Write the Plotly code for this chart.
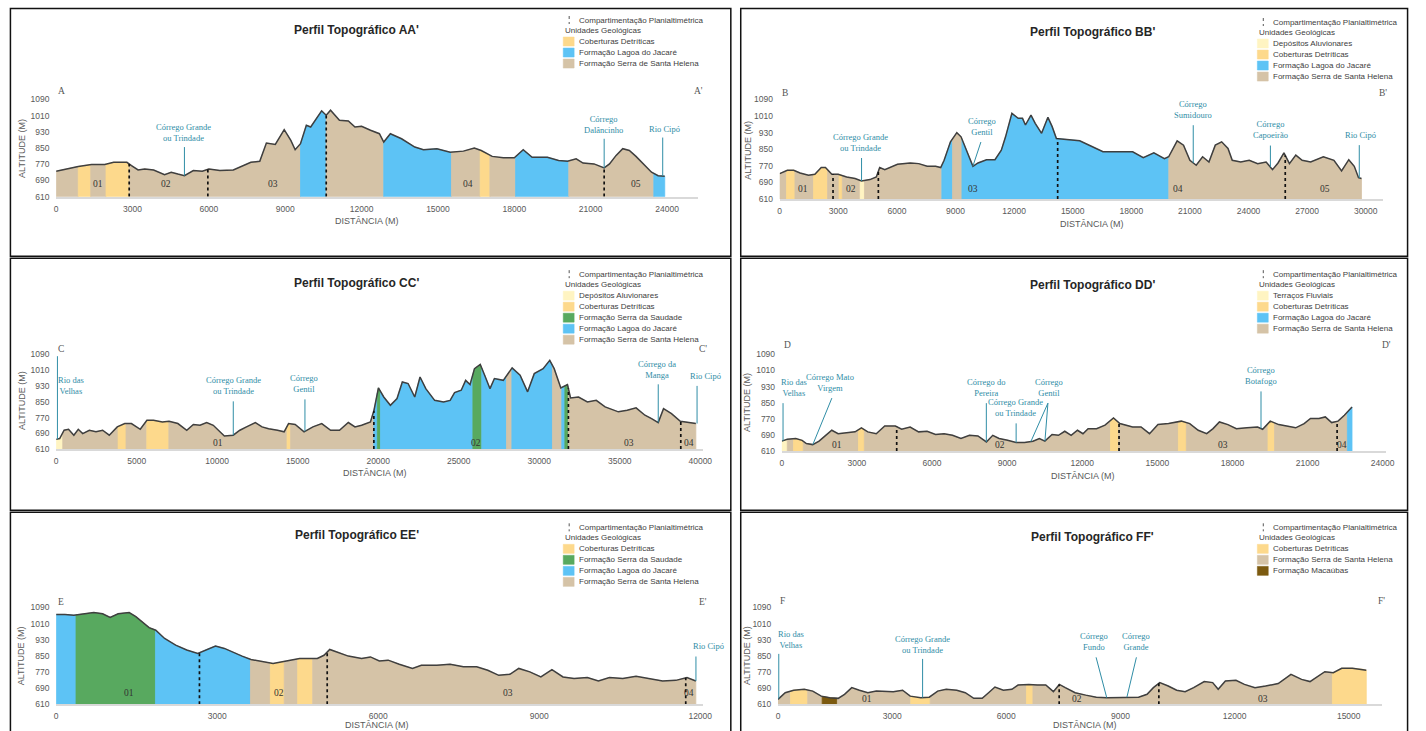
import numpy as np
import plotly.graph_objects as go

# ---------------- geological units ----------------
UNIT_NAMES = {
    "DA": "Depósitos Aluvionares",
    "TF": "Terraços Fluviais",
    "CD": "Coberturas Detríticas",
    "SS": "Formação Serra da Saudade",
    "LJ": "Formação Lagoa do Jacaré",
    "SH": "Formação Serra de Santa Helena",
    "MA": "Formação Macaúbas",
}
UNIT_COLORS = {
    "DA": "#FFF4C2",
    "TF": "#FFF4C2",
    "CD": "#FDD98C",
    "SS": "#58A95F",
    "LJ": "#5DC3F5",
    "SH": "#D5C3A7",
    "MA": "#7C5A10",
}

Y_TICKS = [610, 690, 770, 850, 930, 1010, 1090]

# ---------------- profile AA' ----------------
A_dist = [0, 520, 870, 1390, 1910, 2260, 2780, 2960, 3220, 3480, 3830, 4260, 4520, 4780, 5040, 5390, 5740,
          6000, 6430, 6960, 7300, 7650, 8000, 8260, 8610, 8960, 9220, 9390, 9600, 9830, 10000, 10430, 10610,
          10780, 11130, 11480, 11740, 12000, 12350, 12700, 12870, 13130, 13570, 14090, 14430, 14960, 15480,
          16000, 16430, 16700, 17130, 17570, 18000, 18350, 18700, 19300, 19740, 20090, 20430, 20700, 21130,
          21530, 21740, 22000, 22260, 22520, 22780, 23130, 23390, 23650, 23910]
A_alt = [736, 752, 759, 769, 769, 780, 780, 764, 742, 747, 742, 719, 731, 722, 714, 739, 736, 747, 739, 742,
         759, 780, 785, 875, 868, 941, 888, 842, 872, 963, 954, 1034, 1012, 1037, 987, 984, 954, 958, 938, 921,
         880, 921, 896, 855, 842, 847, 830, 835, 850, 838, 809, 802, 802, 842, 805, 805, 789, 785, 797, 776,
         772, 752, 772, 814, 847, 838, 809, 764, 731, 714, 711]
A_breaks = [0, 870, 1360, 1960, 2870, 9600, 10610, 12870, 15530, 16660, 17040, 18050, 20140, 23480, 23910]
A_units = ["SH", "CD", "SH", "CD", "SH", "LJ", "SH", "LJ", "SH", "CD", "SH", "LJ", "SH", "LJ"]
A_div = [2870, 5960, 10610, 21530]
A_zone_x = [1650, 4310, 8520, 16170, 22780]
A_zone_lab = ["01", "02", "03", "04", "05"]
A_xticks = [0, 3000, 6000, 9000, 12000, 15000, 18000, 21000, 24000]
A_legend = ["CD", "LJ", "SH"]
# (label, label_x, label_alt, line_top_x, line_top_alt, stream_x list)
A_rivers = [
    ("Córrego Grande<br>ou Trindade", 5010, 863, 5040, 855, [5040]),
    ("Córrego<br>Dalâncinho", 21510, 904, 21530, 896, [21530]),
    ("Rio Cipó", 23910, 910, 23830, 902, [23830]),
]

# ---------------- profile BB' ----------------
B_dist = [0, 390, 716, 1041, 1475, 1800, 2126, 2343, 2668, 2993, 3427, 3861, 4187, 4620, 4946, 5119, 5380,
          5597, 6030, 6681, 7115, 7549, 7983, 8243, 8417, 8742, 9067, 9284, 9610, 9892, 10152, 10586, 11020,
          11345, 11562, 11887, 12213, 12430, 12581, 12863, 13080, 13406, 13731, 13948, 14165, 14707, 15358,
          16009, 16551, 17093, 17527, 18069, 18612, 19154, 19696, 19913, 20347, 20672, 20998, 21323, 21649,
          21974, 22299, 22625, 22950, 23167, 23601, 24035, 24469, 24902, 25228, 25510, 25813, 26095, 26421,
          26746, 27180, 27831, 28373, 28764, 29132, 29414, 29631, 29783]
B_alt = [733, 749, 749, 736, 725, 730, 762, 762, 730, 730, 717, 709, 697, 704, 717, 762, 752, 762, 778, 784,
         781, 768, 768, 762, 797, 886, 930, 910, 838, 768, 784, 800, 800, 846, 910, 1023, 999, 999, 967, 1015,
         975, 927, 1004, 959, 902, 897, 891, 862, 838, 838, 838, 838, 810, 833, 805, 814, 891, 870, 797, 773,
         814, 789, 870, 886, 854, 797, 789, 797, 781, 789, 752, 784, 833, 781, 822, 797, 789, 814, 797, 746,
         800, 768, 713, 709]
B_breaks = [0, 350, 780, 1735, 2450, 3040, 3210, 4120, 4340, 8300, 8850, 9330, 19920, 29783]
B_units = ["SH", "CD", "SH", "CD", "SH", "CD", "SH", "DA", "SH", "LJ", "SH", "LJ", "SH"]
B_div = [2730, 5050, 14230, 25880]
B_zone_x = [1215, 3640, 9890, 20410, 27900]
B_zone_lab = ["01", "02", "03", "04", "05"]
B_xticks = [0, 3000, 6000, 9000, 12000, 15000, 18000, 21000, 24000, 27000, 30000]
B_legend = ["DA", "CD", "LJ", "SH"]
B_rivers = [
    ("Córrego Grande<br>ou Trindade", 4140, 824, 4190, 808, [4190]),
    ("Córrego<br>Gentil", 10370, 900, 10300, 885, [9890]),
    ("Córrego<br>Sumidouro", 21170, 982, 21170, 966, [21170]),
    ("Córrego<br>Capoeirão", 25120, 884, 25120, 868, [25120]),
    ("Rio Cipó", 29720, 885, 29670, 870, [29670]),
]

# ---------------- profile CC' ----------------
C_dist = [0, 220, 495, 770, 1100, 1375, 1649, 2062, 2474, 2887, 3299, 3794, 4261, 4674, 5223, 5636, 6048,
          6598, 7010, 7560, 8110, 8522, 8935, 9347, 9759, 10172, 10447, 10997, 11409, 11821, 12371, 12784,
          13196, 13746, 14158, 14433, 14845, 15395, 15945, 16495, 17045, 17595, 18144, 18557, 18969, 19519,
          19739, 20014, 20344, 20756, 21168, 21498, 21856, 22268, 22598, 22955, 23505, 24055, 24467, 24742,
          25155, 25430, 25704, 25979, 26337, 26612, 26942, 27216, 27766, 28316, 28811, 29278, 29691, 30241,
          30653, 30928, 31340, 31753, 31945, 32440, 32990, 33540, 34089, 34914, 35464, 36014, 36564, 36976,
          37388, 37718, 38213, 38763, 39175, 39725]
C_alt = [660, 664, 706, 711, 681, 711, 689, 706, 698, 706, 681, 723, 740, 740, 711, 756, 756, 748, 751, 740,
         706, 735, 731, 745, 731, 698, 677, 681, 706, 723, 745, 723, 714, 706, 698, 740, 735, 698, 723, 740,
         706, 706, 745, 723, 731, 748, 807, 920, 874, 832, 866, 950, 942, 874, 975, 916, 857, 849, 857, 896,
         908, 958, 937, 1017, 1038, 984, 916, 967, 958, 1021, 984, 900, 992, 1017, 1059, 1017, 920, 937, 869,
         874, 849, 857, 824, 799, 807, 819, 782, 765, 745, 815, 790, 751, 745, 740]
C_breaks = [0, 410, 3850, 4340, 5630, 7000, 14340, 14560, 19730, 19950, 20140, 25880, 26430, 27970, 28300,
            30820, 31400, 31590, 31810, 39725]
C_units = ["DA", "SH", "CD", "SH", "CD", "SH", "CD", "SH", "LJ", "SS", "LJ", "SS", "LJ", "SH", "LJ", "SH",
           "LJ", "SS", "SH"]
C_div = [19730, 31810, 38790]
C_zone_x = [10030, 26100, 35580, 39290]
C_zone_lab = ["01", "02", "03", "04"]
C_xticks = [0, 5000, 10000, 15000, 20000, 25000, 30000, 35000, 40000]
C_legend = ["DA", "CD", "SS", "LJ", "SH"]
C_rivers = [
    ("Rio das<br>Velhas", 950, 870, 80, 1080, [80]),
    ("Córrego Grande<br>ou Trindade", 11000, 869, 11000, 852, [11000]),
    ("Córrego<br>Gentil", 15400, 877, 15450, 862, [15450]),
    ("Córrego da<br>Manga", 37330, 951, 37390, 938, [37390]),
    ("Rio Cipó", 40300, 946, 39800, 930, [39800]),
]

# ---------------- profile DD' ----------------
D_dist = [0, 220, 558, 812, 981, 1235, 1489, 1743, 1997, 2250, 2589, 2927, 3181, 3435, 3773, 4112, 4535,
          4788, 5127, 5465, 5804, 6142, 6481, 6819, 7157, 7496, 7834, 8173, 8426, 8680, 9019, 9357, 9695,
          10034, 10288, 10508, 10795, 11049, 11303, 11557, 11810, 12030, 12234, 12572, 12910, 13249, 13503,
          13756, 14010, 14349, 14687, 15025, 15448, 15956, 16294, 16633, 16971, 17225, 17479, 17817, 18156,
          18579, 19002, 19205, 19509, 19848, 20186, 20525, 20863, 21117, 21455, 21709, 21963, 22217, 22470,
          22640, 22775]
D_alt = [660, 669, 673, 664, 648, 643, 660, 689, 714, 697, 702, 706, 726, 706, 697, 735, 735, 719, 730, 706,
         709, 693, 697, 689, 673, 689, 686, 656, 689, 673, 664, 653, 653, 660, 673, 660, 693, 689, 709, 689,
         714, 697, 722, 722, 739, 775, 747, 739, 730, 730, 697, 742, 747, 759, 747, 714, 697, 722, 755, 742,
         722, 726, 730, 719, 759, 742, 735, 726, 747, 772, 772, 780, 752, 759, 788, 813, 829]
D_breaks = [0, 220, 470, 860, 3060, 3300, 13130, 13450, 15840, 16160, 19420, 19680, 22590, 22775]
D_units = ["TF", "SH", "CD", "SH", "CD", "SH", "CD", "SH", "CD", "SH", "CD", "SH", "LJ"]
D_div = [4590, 13470, 22180]
D_zone_x = [2220, 8710, 17610, 22390]
D_zone_lab = ["01", "02", "03", "04"]
D_xticks = [0, 3000, 6000, 9000, 12000, 15000, 18000, 21000, 24000]
D_legend = ["TF", "CD", "LJ", "SH"]
D_rivers = [
    ("Rio das<br>Velhas", 470, 865, 50, 848, [50]),
    ("Córrego Mato<br>Virgem", 1910, 886, 2000, 873, [1240]),
    ("Córrego do<br>Pereira", 8170, 865, 8170, 848, [8170]),
    ("Córrego Grande<br>ou Trindade", 9320, 766, 9360, 748, [9360]),
    ("Córrego<br>Gentil", 10680, 865, 10630, 848, [9950, 10510]),
    ("Córrego<br>Botafogo", 19140, 923, 19140, 906, [19140]),
]

# ---------------- profile EE' ----------------
E_dist = [0, 165, 330, 495, 701, 866, 1006, 1155, 1361, 1485, 1608, 1732, 1856, 2021, 2227, 2433, 2639,
          2804, 2969, 3134, 3299, 3464, 3629, 3794, 4041, 4289, 4536, 4866, 4990, 5097, 5237, 5443, 5691,
          5856, 6021, 6186, 6392, 6639, 6804, 7093, 7340, 7588, 7835, 8041, 8247, 8454, 8619, 8825, 9031,
          9237, 9443, 9649, 9897, 10103, 10309, 10557, 10804, 11052, 11299, 11546, 11753, 11918]
E_alt = [1055, 1055, 1051, 1058, 1064, 1058, 1040, 1058, 1064, 1044, 1018, 990, 977, 936, 903, 879, 862,
         882, 899, 887, 866, 849, 832, 825, 812, 825, 837, 837, 853, 882, 870, 849, 837, 845, 825, 829, 809,
         788, 804, 804, 809, 796, 796, 779, 754, 759, 788, 771, 746, 782, 746, 738, 743, 726, 743, 738, 749,
         738, 726, 729, 743, 726]
E_breaks = [0, 370, 1850, 3620, 3990, 4250, 4500, 4780, 11918]
E_units = ["LJ", "SS", "LJ", "SH", "CD", "SH", "CD", "SH"]
E_div = [2670, 5050, 11730]
E_zone_x = [1360, 4150, 8420, 11790]
E_zone_lab = ["01", "02", "03", "04"]
E_xticks = [0, 3000, 6000, 9000, 12000]
E_legend = ["CD", "SS", "LJ", "SH"]
E_rivers = [
    ("Rio Cipó", 12150, 863, 11920, 847, [11920]),
]

# ---------------- profile FF' ----------------
F_dist = [0, 189, 412, 690, 913, 1136, 1359, 1581, 1748, 1938, 2138, 2361, 2584, 2806, 3029, 3274, 3474,
          3752, 3975, 4197, 4420, 4699, 4922, 5145, 5367, 5534, 5701, 5924, 6147, 6310, 6592, 6815, 7038,
          7238, 7394, 7550, 7809, 8087, 8365, 8644, 8921, 9199, 9477, 9700, 9866, 10033, 10256, 10478, 10701,
          10924, 11202, 11424, 11569, 11758, 12036, 12258, 12536, 12814, 13148, 13482, 13760, 13983, 14205,
          14372, 14594, 14816, 15095, 15373, 15462]
F_alt = [635, 668, 680, 685, 676, 651, 643, 640, 660, 693, 680, 668, 676, 673, 673, 680, 651, 643, 646, 676,
         685, 680, 668, 640, 640, 668, 696, 680, 685, 706, 709, 706, 706, 673, 709, 693, 668, 656, 646, 643,
         643, 646, 646, 660, 693, 718, 701, 680, 673, 693, 723, 718, 685, 726, 729, 709, 693, 701, 713, 759,
         734, 723, 751, 772, 767, 789, 789, 784, 779]
F_breaks = [0, 330, 780, 1160, 1560, 3490, 4000, 6530, 6700, 14570, 15462]
F_units = ["SH", "CD", "SH", "MA", "SH", "CD", "SH", "CD", "SH", "CD"]
F_div = [7390, 10010]
F_zone_x = [2340, 7860, 12760]
F_zone_lab = ["01", "02", "03"]
F_xticks = [0, 3000, 6000, 9000, 12000, 15000]
F_legend = ["CD", "SH", "MA"]
F_rivers = [
    ("Rio das<br>Velhas", 330, 868, 20, 860, [20]),
    ("Córrego Grande<br>ou Trindade", 3800, 847, 3800, 835, [3800]),
    ("Córrego<br>Fundo", 8310, 860, 8360, 843, [8640]),
    ("Córrego<br>Grande", 9420, 860, 9420, 843, [9170]),
]

# ---------------- page geometry (screen pixels) ----------------
W, H = 1426, 731
YS = 1.0075
YTOP = 1160


def px(sx):
    return sx / W


def py(sy):
    return 1 - sy * YS / H


PANELS = [
    dict(key="A", title="Perfil Topográfico AA'", dist=A_dist, alt=A_alt, breaks=A_breaks, units=A_units,
         div=A_div, zx=A_zone_x, zl=A_zone_lab, zalt=672, xticks=A_xticks, legend=A_legend, rivers=A_rivers,
         x0=54.6, kpx=25.67, xend=25220, yb=196.6, yt=99.4, letter_alt=1134,
         title_xy=(358, 30), leg_xy=(566, 20), box=(8.5, 8.5, 735, 256),
         xt_xy=(368, 221), yt_xy=(20, 148)),
    dict(key="B", title="Perfil Topográfico BB'", dist=B_dist, alt=B_alt, breaks=B_breaks, units=B_units,
         div=B_div, zx=B_zone_x, zl=B_zone_lab, zalt=660, xticks=B_xticks, legend=B_legend, rivers=B_rivers,
         x0=784.3, kpx=19.7, xend=30870, yb=199, yt=99.4, letter_alt=1120,
         title_xy=(1100, 32), leg_xy=(1266, 22), box=(745, 8.5, 1417.5, 256),
         xt_xy=(1099, 224), yt_xy=(752, 150)),
    dict(key="C", title="Perfil Topográfico CC'", dist=C_dist, alt=C_alt, breaks=C_breaks, units=C_units,
         div=C_div, zx=C_zone_x, zl=C_zone_lab, zalt=640, xticks=C_xticks, legend=C_legend, rivers=C_rivers,
         x0=54.6, kpx=16.24, xend=40150, yb=449, yt=354, letter_alt=1118,
         title_xy=(358, 283), leg_xy=(566, 274), box=(8.5, 258, 735, 510),
         xt_xy=(376, 473), yt_xy=(20, 400)),
    dict(key="D", title="Perfil Topográfico DD'", dist=D_dist, alt=D_alt, breaks=D_breaks, units=D_units,
         div=D_div, zx=D_zone_x, zl=D_zone_lab, zalt=640, xticks=D_xticks, legend=D_legend, rivers=D_rivers,
         x0=786.4, kpx=25.25, xend=24150, yb=451, yt=354, letter_alt=1135,
         title_xy=(1100, 285), leg_xy=(1266, 274), box=(745, 258, 1417.5, 510),
         xt_xy=(1090, 476), yt_xy=(752, 402)),
    dict(key="E", title="Perfil Topográfico EE'", dist=E_dist, alt=E_alt, breaks=E_breaks, units=E_units,
         div=E_div, zx=E_zone_x, zl=E_zone_lab, zalt=668, xticks=E_xticks, legend=E_legend, rivers=E_rivers,
         x0=54.6, kpx=54.13, xend=12050, yb=704, yt=607, letter_alt=1118,
         title_xy=(358, 535), leg_xy=(566, 527), box=(8.5, 512, 735, 760),
         xt_xy=(378, 724.5), yt_xy=(20, 655)),
    dict(key="F", title="Perfil Topográfico FF'", dist=F_dist, alt=F_alt, breaks=F_breaks, units=F_units,
         div=F_div, zx=F_zone_x, zl=F_zone_lab, zalt=636, xticks=F_xticks, legend=F_legend, rivers=F_rivers,
         x0=782.6, kpx=38.37, xend=15870, yb=704, yt=607, letter_alt=1120,
         title_xy=(1100, 537), leg_xy=(1266, 527), box=(745, 512, 1417.5, 760),
         xt_xy=(1092, 724.5), yt_xy=(752, 655)),
]

SANS = "Liberation Sans, Arial, sans-serif"
SERIF = "Liberation Serif, Times New Roman, serif"
TEAL = "#2F8DA6"
GRAY_TXT = "#595959"

fig = go.Figure()
layout = dict(
    width=W, height=H, margin=dict(l=0, r=0, t=0, b=0),
    paper_bgcolor="white", plot_bgcolor="rgba(0,0,0,0)",
    showlegend=False, font=dict(family=SANS),
)
shapes = []
annotations = []


def note(sx, sy, text, size, color, family=SANS, xanchor="center", yanchor="middle", angle=0):
    annotations.append(dict(x=px(sx), y=py(sy), xref="paper", yref="paper", text=text, showarrow=False,
                            xanchor=xanchor, yanchor=yanchor, textangle=angle,
                            font=dict(family=family, size=size, color=color)))


for i, p in enumerate(PANELS):
    n = i + 1
    xa, ya = f"x{n}", f"y{n}"
    xk, yk = f"xaxis{n}", f"yaxis{n}"
    dist = np.array(p["dist"], dtype=float)
    alt = np.array(p["alt"], dtype=float)

    def prof(x):
        return float(np.interp(x, dist, alt))

    ppm = (p["yb"] - p["yt"]) / 480.0

    def sxp(x):
        return p["x0"] + x / 1000.0 * p["kpx"]

    def syp(a):
        return p["yb"] - (a - 610) * ppm

    xr = sxp(p["xend"])
    layout[xk] = dict(
        domain=[px(p["x0"]), px(xr)], range=[0, p["xend"]], anchor=ya,
        tickvals=p["xticks"], ticktext=[str(v) for v in p["xticks"]],
        showgrid=False, zeroline=False, showline=True, linecolor="#D9D9D9", linewidth=1.5,
        ticks="outside", ticklen=3, tickcolor="rgba(0,0,0,0)",
        tickfont=dict(size=8.5, color=GRAY_TXT, family=SANS), fixedrange=True,
    )
    layout[yk] = dict(
        domain=[py(p["yb"]), py(syp(YTOP))], range=[610, YTOP], anchor=xa,
        tickvals=Y_TICKS, ticktext=[str(v) for v in Y_TICKS],
        showgrid=False, zeroline=False, showline=False,
        ticks="outside", ticklen=4, tickcolor="rgba(0,0,0,0)",
        tickfont=dict(size=8.5, color=GRAY_TXT, family=SANS), fixedrange=True,
    )

    # coloured geological segments
    for s, e, code in zip(p["breaks"][:-1], p["breaks"][1:], p["units"]):
        inner = [(x, y) for x, y in zip(p["dist"], p["alt"]) if s < x < e]
        xs = [s] + [q[0] for q in inner] + [e, e, s, s]
        ys = [prof(s)] + [q[1] for q in inner] + [prof(e), 610, 610, prof(s)]
        col = UNIT_COLORS[code]
        fig.add_trace(go.Scatter(x=xs, y=ys, mode="lines", fill="toself", fillcolor=col,
                                 line=dict(color=col, width=0.8), hoverinfo="skip",
                                 xaxis=xa, yaxis=ya))

    # profile outline
    fig.add_trace(go.Scatter(x=p["dist"], y=p["alt"], mode="lines",
                             line=dict(color="#3F3F3F", width=1.5), hoverinfo="skip",
                             xaxis=xa, yaxis=ya))

    # compartment divisions
    for b in p["div"]:
        fig.add_trace(go.Scatter(x=[b, b], y=[611, prof(b)], mode="lines",
                                 line=dict(color="#111111", width=1.7, dash="dot"), hoverinfo="skip",
                                 xaxis=xa, yaxis=ya))

    # rivers
    for (lab, lx, lalt, tx, talt, streams) in p["rivers"]:
        for sx in streams:
            fig.add_trace(go.Scatter(x=[tx, sx], y=[talt, prof(sx)], mode="lines",
                                     line=dict(color=TEAL, width=1), hoverinfo="skip",
                                     xaxis=xa, yaxis=ya))
        note(sxp(lx), syp(lalt), lab, 8.5, TEAL, family=SERIF, yanchor="bottom")

    # zone labels
    for zx, zl in zip(p["zx"], p["zl"]):
        note(sxp(zx), syp(p["zalt"]), zl, 9.5, "#333333", family=SERIF)

    # profile end letters
    note(sxp(0), syp(p["letter_alt"]), p["key"], 9.5, "#555555", family=SERIF, xanchor="left")
    note(sxp(p["xend"]), syp(p["letter_alt"]), p["key"] + "'", 9.5, "#555555", family=SERIF)

    # title
    tx_, ty_ = p["title_xy"]
    note(tx_, ty_, "<b>" + p["title"] + "</b>", 12, "#262626")

    # axis titles
    ax_, ay_ = p["xt_xy"]
    note(ax_, ay_, "DISTÂNCIA (M)", 9, GRAY_TXT)
    bx_, by_ = p["yt_xy"]
    note(bx_, by_, "ALTITUDE (M)", 9, GRAY_TXT, angle=-90)

    # legend
    lx0, ly0 = p["leg_xy"]
    shapes.append(dict(type="line", xref="paper", yref="paper", x0=px(lx0 + 6), x1=px(lx0 + 6),
                       y0=py(ly0 - 4), y1=py(ly0 + 4), line=dict(color="#555555", width=1, dash="dot")))
    note(lx0 + 14, ly0, "Compartimentação Planialtimétrica", 8, "#404040", xanchor="left")
    note(lx0, ly0 + 10.5, "Unidades Geológicas", 8, "#404040", xanchor="left")
    for k, code in enumerate(p["legend"]):
        yc = ly0 + 21.5 + 11 * k
        shapes.append(dict(type="rect", xref="paper", yref="paper", x0=px(lx0), x1=px(lx0 + 11),
                           y0=py(yc - 4.5), y1=py(yc + 4.5), fillcolor=UNIT_COLORS[code],
                           line=dict(color=UNIT_COLORS[code], width=0.5)))
        note(lx0 + 14, yc, UNIT_NAMES[code], 8, "#404040", xanchor="left")

    # panel frame
    bx0, by0, bx1, by1 = p["box"]
    shapes.append(dict(type="rect", xref="paper", yref="paper", x0=px(bx0), x1=px(bx1),
                       y0=py(by1), y1=py(by0), line=dict(color="#111111", width=1.5),
                       fillcolor="rgba(0,0,0,0)"))

layout["shapes"] = shapes
layout["annotations"] = annotations
fig.update_layout(**layout)
fig.write_html("out.html", config={"displayModeBar": False},
               post_script="document.body.style.margin='0px';document.body.style.overflow='hidden';")
